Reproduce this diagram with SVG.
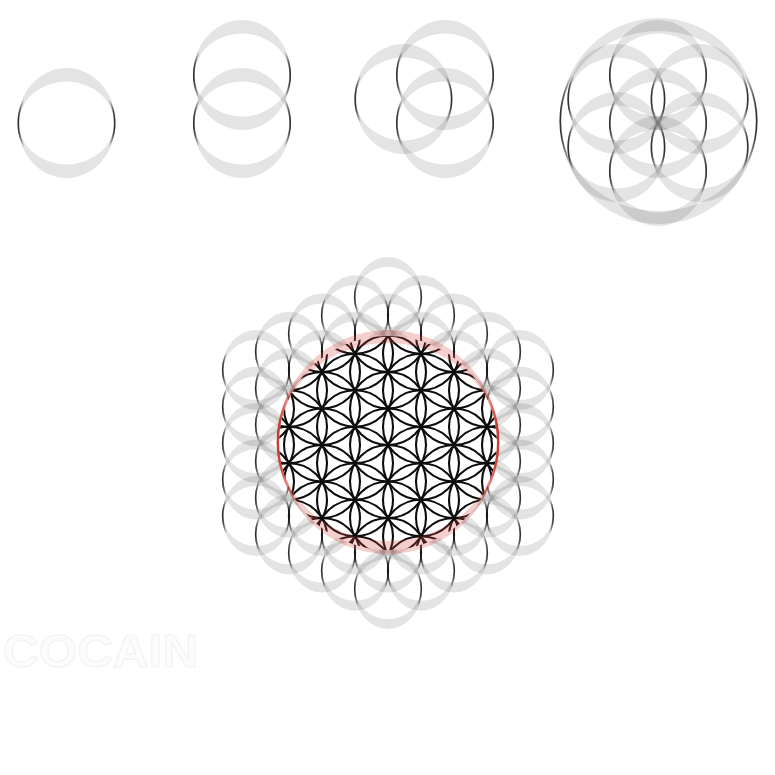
<svg xmlns="http://www.w3.org/2000/svg" xmlns:xlink="http://www.w3.org/1999/xlink" width="775" height="775" viewBox="0 0 775 775">
<style>
.band{fill:#000;fill-opacity:0.105;fill-rule:evenodd}
.side{fill:none;stroke:url(#sg);stroke-width:1.7}
.rband{fill:#d8473c;fill-opacity:0.26;fill-rule:evenodd}
.rside{fill:none;stroke:url(#rg);stroke-width:2.4}
.fl{fill:none;stroke:#0d0d0d;stroke-width:2.1}
.wm{font-family:"Liberation Sans",Arial,sans-serif;font-weight:bold;font-size:46px;fill:#fcfcfc;stroke:#f2f2f2;stroke-width:1}
</style>
<defs>
<linearGradient id="sg" x1="0" y1="0" x2="1" y2="0">
<stop offset="0" stop-color="#000" stop-opacity="0.8"/>
<stop offset="0.06" stop-color="#000" stop-opacity="0"/>
<stop offset="0.94" stop-color="#000" stop-opacity="0"/>
<stop offset="1" stop-color="#000" stop-opacity="0.8"/>
</linearGradient>
<linearGradient id="rg" x1="0" y1="0" x2="1" y2="0">
<stop offset="0" stop-color="#cc2e20" stop-opacity="0.95"/>
<stop offset="0.08" stop-color="#cc2e20" stop-opacity="0"/>
<stop offset="0.92" stop-color="#cc2e20" stop-opacity="0"/>
<stop offset="1" stop-color="#cc2e20" stop-opacity="0.95"/>
</linearGradient>
<g id="rA"><path class="band" d="M-49,0A49,55 0 1,0 49,0A49,55 0 1,0 -49,0ZM-47.5,0A47.5,41.5 0 1,0 47.5,0A47.5,41.5 0 1,0 -47.5,0Z"/><ellipse class="side" rx="48.2" ry="48"/></g>
<g id="rB"><path class="band" d="M-34,0A34,40 0 1,0 34,0A34,40 0 1,0 -34,0ZM-32.5,0A32.5,30 0 1,0 32.5,0A32.5,30 0 1,0 -32.5,0Z"/><ellipse class="side" rx="33.3" ry="35"/></g>
<g id="rC"><path class="band" d="M-99,0A99,103 0 1,0 99,0A99,103 0 1,0 -99,0ZM-97.5,0A97.5,90 0 1,0 97.5,0A97.5,90 0 1,0 -97.5,0Z"/><ellipse class="side" rx="98.2" ry="97"/></g>
<ellipse id="bc" class="fl" rx="38" ry="36.5"/>
<clipPath id="fc"><ellipse cx="388" cy="443" rx="109" ry="107"/></clipPath>
</defs>
<rect width="775" height="775" fill="#fff"/>

<g id="watermark"><text class="wm" x="3" y="667" textLength="195" lengthAdjust="spacingAndGlyphs">COCAIN</text></g>

<g id="one-circle"><use xlink:href="#rA" x="66.5" y="123"/></g>

<g id="two-circles"><use xlink:href="#rA" x="242" y="75"/><use xlink:href="#rA" x="242" y="123"/></g>

<g id="three-circles"><use xlink:href="#rA" x="445" y="75"/><use xlink:href="#rA" x="445" y="123"/><use xlink:href="#rA" x="403.4" y="99"/></g>

<g id="seed-of-life">
<use xlink:href="#rC" x="658.5" y="121"/>
<use xlink:href="#rA" x="658" y="123"/>
<use xlink:href="#rA" x="658" y="75"/>
<use xlink:href="#rA" x="658" y="171"/>
<use xlink:href="#rA" x="616.4" y="99"/>
<use xlink:href="#rA" x="616.4" y="147"/>
<use xlink:href="#rA" x="699.6" y="99"/>
<use xlink:href="#rA" x="699.6" y="147"/>
</g>

<g id="flower-gray">
<use xlink:href="#rB" x="388" y="297"/><use xlink:href="#rB" x="388" y="333.5"/><use xlink:href="#rB" x="388" y="370"/><use xlink:href="#rB" x="388" y="406.5"/><use xlink:href="#rB" x="388" y="443"/><use xlink:href="#rB" x="388" y="479.5"/><use xlink:href="#rB" x="388" y="516"/><use xlink:href="#rB" x="388" y="552.5"/><use xlink:href="#rB" x="388" y="589"/>
<use xlink:href="#rB" x="355" y="315.25"/><use xlink:href="#rB" x="355" y="351.75"/><use xlink:href="#rB" x="355" y="388.25"/><use xlink:href="#rB" x="355" y="424.75"/><use xlink:href="#rB" x="355" y="461.25"/><use xlink:href="#rB" x="355" y="497.75"/><use xlink:href="#rB" x="355" y="534.25"/><use xlink:href="#rB" x="355" y="570.75"/>
<use xlink:href="#rB" x="421" y="315.25"/><use xlink:href="#rB" x="421" y="351.75"/><use xlink:href="#rB" x="421" y="388.25"/><use xlink:href="#rB" x="421" y="424.75"/><use xlink:href="#rB" x="421" y="461.25"/><use xlink:href="#rB" x="421" y="497.75"/><use xlink:href="#rB" x="421" y="534.25"/><use xlink:href="#rB" x="421" y="570.75"/>
<use xlink:href="#rB" x="322" y="333.5"/><use xlink:href="#rB" x="322" y="370"/><use xlink:href="#rB" x="322" y="406.5"/><use xlink:href="#rB" x="322" y="443"/><use xlink:href="#rB" x="322" y="479.5"/><use xlink:href="#rB" x="322" y="516"/><use xlink:href="#rB" x="322" y="552.5"/>
<use xlink:href="#rB" x="454" y="333.5"/><use xlink:href="#rB" x="454" y="370"/><use xlink:href="#rB" x="454" y="406.5"/><use xlink:href="#rB" x="454" y="443"/><use xlink:href="#rB" x="454" y="479.5"/><use xlink:href="#rB" x="454" y="516"/><use xlink:href="#rB" x="454" y="552.5"/>
<use xlink:href="#rB" x="289" y="351.75"/><use xlink:href="#rB" x="289" y="388.25"/><use xlink:href="#rB" x="289" y="424.75"/><use xlink:href="#rB" x="289" y="461.25"/><use xlink:href="#rB" x="289" y="497.75"/><use xlink:href="#rB" x="289" y="534.25"/>
<use xlink:href="#rB" x="487" y="351.75"/><use xlink:href="#rB" x="487" y="388.25"/><use xlink:href="#rB" x="487" y="424.75"/><use xlink:href="#rB" x="487" y="461.25"/><use xlink:href="#rB" x="487" y="497.75"/><use xlink:href="#rB" x="487" y="534.25"/>
<use xlink:href="#rB" x="256" y="370"/><use xlink:href="#rB" x="256" y="406.5"/><use xlink:href="#rB" x="256" y="443"/><use xlink:href="#rB" x="256" y="479.5"/><use xlink:href="#rB" x="256" y="516"/>
<use xlink:href="#rB" x="520" y="370"/><use xlink:href="#rB" x="520" y="406.5"/><use xlink:href="#rB" x="520" y="443"/><use xlink:href="#rB" x="520" y="479.5"/><use xlink:href="#rB" x="520" y="516"/>
</g>

<g id="flower-core">
<ellipse cx="388" cy="443" rx="109" ry="107" fill="#fff"/>
<g clip-path="url(#fc)">
<use xlink:href="#bc" x="388" y="299"/><use xlink:href="#bc" x="388" y="335.5"/><use xlink:href="#bc" x="388" y="372"/><use xlink:href="#bc" x="388" y="408.5"/><use xlink:href="#bc" x="388" y="445"/><use xlink:href="#bc" x="388" y="481.5"/><use xlink:href="#bc" x="388" y="518"/><use xlink:href="#bc" x="388" y="554.5"/><use xlink:href="#bc" x="388" y="591"/>
<use xlink:href="#bc" x="355" y="317.25"/><use xlink:href="#bc" x="355" y="353.75"/><use xlink:href="#bc" x="355" y="390.25"/><use xlink:href="#bc" x="355" y="426.75"/><use xlink:href="#bc" x="355" y="463.25"/><use xlink:href="#bc" x="355" y="499.75"/><use xlink:href="#bc" x="355" y="536.25"/><use xlink:href="#bc" x="355" y="572.75"/>
<use xlink:href="#bc" x="421" y="317.25"/><use xlink:href="#bc" x="421" y="353.75"/><use xlink:href="#bc" x="421" y="390.25"/><use xlink:href="#bc" x="421" y="426.75"/><use xlink:href="#bc" x="421" y="463.25"/><use xlink:href="#bc" x="421" y="499.75"/><use xlink:href="#bc" x="421" y="536.25"/><use xlink:href="#bc" x="421" y="572.75"/>
<use xlink:href="#bc" x="322" y="335.5"/><use xlink:href="#bc" x="322" y="372"/><use xlink:href="#bc" x="322" y="408.5"/><use xlink:href="#bc" x="322" y="445"/><use xlink:href="#bc" x="322" y="481.5"/><use xlink:href="#bc" x="322" y="518"/><use xlink:href="#bc" x="322" y="554.5"/>
<use xlink:href="#bc" x="454" y="335.5"/><use xlink:href="#bc" x="454" y="372"/><use xlink:href="#bc" x="454" y="408.5"/><use xlink:href="#bc" x="454" y="445"/><use xlink:href="#bc" x="454" y="481.5"/><use xlink:href="#bc" x="454" y="518"/><use xlink:href="#bc" x="454" y="554.5"/>
<use xlink:href="#bc" x="289" y="353.75"/><use xlink:href="#bc" x="289" y="390.25"/><use xlink:href="#bc" x="289" y="426.75"/><use xlink:href="#bc" x="289" y="463.25"/><use xlink:href="#bc" x="289" y="499.75"/><use xlink:href="#bc" x="289" y="536.25"/>
<use xlink:href="#bc" x="487" y="353.75"/><use xlink:href="#bc" x="487" y="390.25"/><use xlink:href="#bc" x="487" y="426.75"/><use xlink:href="#bc" x="487" y="463.25"/><use xlink:href="#bc" x="487" y="499.75"/><use xlink:href="#bc" x="487" y="536.25"/>
<use xlink:href="#bc" x="256" y="372"/><use xlink:href="#bc" x="256" y="408.5"/><use xlink:href="#bc" x="256" y="445"/><use xlink:href="#bc" x="256" y="481.5"/><use xlink:href="#bc" x="256" y="518"/>
<use xlink:href="#bc" x="520" y="372"/><use xlink:href="#bc" x="520" y="408.5"/><use xlink:href="#bc" x="520" y="445"/><use xlink:href="#bc" x="520" y="481.5"/><use xlink:href="#bc" x="520" y="518"/>
</g>
<path class="rband" d="M277,442A111,112 0 1,0 499,442A111,112 0 1,0 277,442ZM278.5,442A109.5,99 0 1,0 497.5,442A109.5,99 0 1,0 278.5,442Z"/>
<ellipse class="rside" cx="388" cy="442" rx="110.2" ry="106"/>
</g>
</svg>
